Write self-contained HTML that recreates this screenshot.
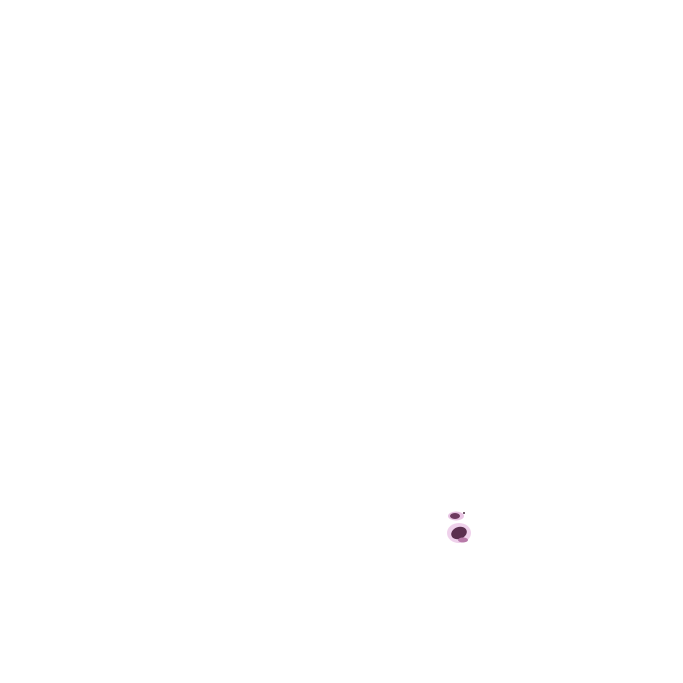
<!DOCTYPE html>
<html><head><style>
html,body{margin:0;padding:0;background:#fff;width:683px;height:683px;overflow:hidden}
</style></head><body>
<svg width="683" height="683" viewBox="0 0 683 683" xmlns="http://www.w3.org/2000/svg">
<rect width="683" height="683" fill="#ffffff"/>
<g>
<ellipse cx="456" cy="516" rx="8" ry="4.5" fill="#e2b5dc" opacity="0.8"/>
<ellipse cx="455" cy="516" rx="5" ry="3" fill="#6e3a60"/>
<circle cx="464" cy="513" r="1" fill="#4a2a40"/>
<ellipse cx="459" cy="533" rx="12" ry="10" fill="#e8bde2" opacity="0.7"/>
<ellipse cx="459" cy="533" rx="8" ry="6" fill="#5a2f4e" transform="rotate(-20 459 533)"/>
<ellipse cx="463" cy="540" rx="5" ry="2.5" fill="#b77aa8"/>
</g>
</svg>
</body></html>
